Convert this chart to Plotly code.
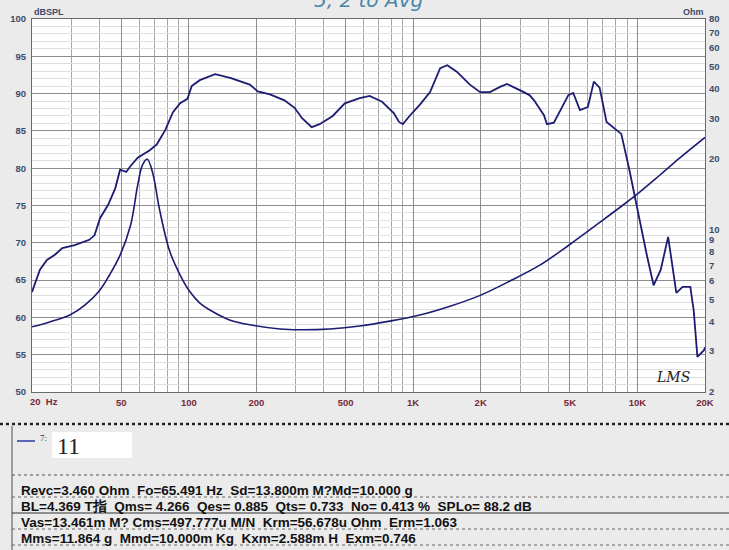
import plotly.graph_objects as go
import math

# ---------------- data ----------------
spl_freq = [20, 21.7, 23.3, 25.3, 27.3, 31, 36, 38, 40.2, 43.7, 47, 49.4, 52.6, 55, 59.2, 67, 72,
            78.5, 85, 91.5, 98.6, 103, 112, 131, 153, 187, 203, 230, 267, 296, 320, 353, 383,
            438, 496, 578, 640, 727, 820, 865, 900, 970, 1070, 1190, 1320, 1420, 1570, 1790,
            1990, 2200, 2440, 2620, 2970, 3300, 3460, 3830, 3950, 4240, 4920, 5170, 5540, 6010,
            6390, 6780, 7280, 7890, 8470, 9200, 9800, 10500, 11000, 11800, 12700, 13700, 14900,
            15900, 17200, 17800, 18500, 19800, 20000]
spl_db = [63.4, 66.4, 67.7, 68.4, 69.3, 69.7, 70.4, 71.0, 73.3, 75.1, 77.3, 79.8, 79.5, 80.3, 81.4,
          82.4, 83.2, 85.1, 87.5, 88.7, 89.3, 91.0, 91.8, 92.6, 92.1, 91.2, 90.3, 89.9, 89.1, 88.1,
          86.7, 85.5, 85.9, 87.0, 88.7, 89.4, 89.7, 88.9, 87.4, 86.2, 85.9, 87.1, 88.5, 90.2, 93.4,
          93.8, 92.9, 91.2, 90.2, 90.2, 90.9, 91.3, 90.5, 89.8, 89.1, 87.1, 85.9, 86.1, 89.8, 90.1,
          87.8, 88.2, 91.6, 90.8, 86.2, 85.4, 84.6, 79.8, 75.7, 71.0, 68.4, 64.3, 66.4, 70.8, 63.3,
          64.1, 64.1, 61.0, 54.7, 55.6, 56.0]

imp_freq = [20, 24, 29.5, 34.4, 40.2, 44.3, 49.4, 55, 59.2, 62.2, 65.3, 69, 74, 82, 91.5, 101, 112,
            131, 153, 187, 255, 312, 426, 578, 786, 1070, 1460, 1990, 2700, 3670, 4990, 6790,
            8340, 10200, 12600, 15400, 20000]
imp_ohm = [3.81, 4.0, 4.28, 4.72, 5.49, 6.36, 7.74, 10.4, 15.5, 18.9, 20.0, 17.5, 12.2, 8.1, 6.36,
           5.4, 4.82, 4.37, 4.07, 3.89, 3.73, 3.70, 3.73, 3.84, 4.03, 4.28, 4.67, 5.2, 5.99, 7.01,
           8.6, 10.7, 12.4, 14.4, 17.1, 20.2, 24.8]

x_tickvals = [50, 100, 200, 500, 1000, 2000, 5000, 10000, 20000]
x_ticktext = ["50", "100", "200", "500", "1K", "2K", "5K", "10K", "20K"]
y_tickvals = [50, 55, 60, 65, 70, 75, 80, 85, 90, 95, 100]
y2_tickvals = [2, 3, 4, 5, 6, 7, 8, 9, 10, 20, 30, 40, 50, 60, 70, 80]

param_rows = [
    "Revc=3.460 Ohm\u00a0 Fo=65.491 Hz\u00a0 Sd=13.800m M?Md=10.000 g",
    "BL=4.369 T指\u00a0 Qms= 4.266\u00a0 Qes= 0.885\u00a0 Qts= 0.733\u00a0 No= 0.413 %\u00a0 SPLo= 88.2 dB",
    "Vas=13.461m M? Cms=497.777u M/N\u00a0 Krm=56.678u Ohm\u00a0 Erm=1.063",
    "Mms=11.864 g\u00a0 Mmd=10.000m Kg\u00a0 Kxm=2.588m H\u00a0 Exm=0.746",
]

# ---------------- layout geometry ----------------
W, H = 729, 550
L, R, T, B = 32, 705, 19, 392


def px(x):
    return (x - L) / (R - L)


def py(y):
    return (B - y) / (B - T)


minor_x = []
for dec in [10, 100, 1000, 10000]:
    for m in range(1, 10):
        v = dec * m
        if 20 <= v <= 20000 and v not in x_tickvals:
            minor_x.append(v)

navy = "#1c1c72"
fig = go.Figure()
fig.add_trace(go.Scatter(x=spl_freq, y=spl_db, mode="lines",
                         line=dict(color=navy, width=1.8), yaxis="y", showlegend=False,
                         hoverinfo="skip"))
fig.add_trace(go.Scatter(x=imp_freq, y=imp_ohm, mode="lines", line_shape="spline",
                         line=dict(color=navy, width=1.6), yaxis="y2", showlegend=False,
                         hoverinfo="skip"))

tickfont_y = dict(family="Liberation Sans", size=9.5, color="#3c4c6c")
tickfont_x = dict(family="Liberation Sans", size=9.5, color="#7a2838")

fig.update_layout(
    width=W, height=H,
    margin=dict(l=L, r=W - R, t=T, b=H - B, autoexpand=False),
    paper_bgcolor="#ebebeb", plot_bgcolor="#ffffff",
    xaxis=dict(type="log", range=[math.log10(20), math.log10(20000)], automargin=False,
               tickvals=x_tickvals, ticktext=["<b>" + t + "</b>" for t in x_ticktext],
               tickfont=tickfont_x,
               showgrid=True, gridcolor="#8c8c8c", gridwidth=1,
               minor=dict(tickvals=minor_x, showgrid=True, gridcolor="#a8a8a8", gridwidth=1),
               showline=True, linecolor="#6a6a6a", linewidth=1, mirror=True,
               ticks="", ticklabelstandoff=2, zeroline=False),
    yaxis=dict(range=[50, 100], tickvals=y_tickvals,
               ticktext=["<b>%d</b>" % v for v in y_tickvals], tickfont=tickfont_y,
               automargin=False,
               showgrid=True, gridcolor="#8c8c8c", gridwidth=1,
               minor=dict(dtick=1, showgrid=True, gridcolor="#dedede", gridwidth=1),
               showline=True, linecolor="#6a6a6a", linewidth=1, mirror=True,
               ticks="", zeroline=False, ticklabelstandoff=3),
    yaxis2=dict(type="log", range=[math.log10(2), math.log10(80)], overlaying="y", side="right",
                automargin=False,
                tickvals=y2_tickvals, ticktext=["<b>%d</b>" % v for v in y2_tickvals],
                tickfont=tickfont_y,
                showgrid=False, ticks="", zeroline=False, ticklabelstandoff=3),
)

ann = []
ann.append(dict(text="<b>dBSPL</b>", x=px(32), y=py(12), xref="paper", yref="paper",
                xanchor="left", yanchor="middle", showarrow=False,
                font=dict(family="Liberation Sans", size=9, color="#3c4c6c")))
ann.append(dict(text="<b>Ohm</b>", x=px(706), y=py(12), xref="paper", yref="paper",
                xanchor="right", yanchor="middle", showarrow=False,
                font=dict(family="Liberation Sans", size=9, color="#3c4c6c")))
ann.append(dict(text="<b>20\u00a0 Hz</b>", x=px(28), y=py(401), xref="paper", yref="paper",
                xanchor="left", yanchor="middle", showarrow=False, font=tickfont_x))
ann.append(dict(text="<i>LMS</i>", x=px(673), y=py(377), xref="paper", yref="paper",
                xanchor="center", yanchor="middle", showarrow=False,
                font=dict(family="DejaVu Serif", size=14, color="#222222")))
ann.append(dict(text="<i>5, 2 to Avg</i>", x=px(368), y=py(0), xref="paper", yref="paper",
                xanchor="center", yanchor="middle", showarrow=False,
                font=dict(family="DejaVu Sans", size=20, color="#4a86a8")))
# legend
ann.append(dict(text="7:", x=px(38), y=py(438), xref="paper", yref="paper",
                xanchor="left", yanchor="middle", showarrow=False,
                font=dict(family="Liberation Serif", size=9, color="#333333")))
ann.append(dict(text="11", x=px(55), y=py(446), xref="paper", yref="paper",
                xanchor="left", yanchor="middle", showarrow=False,
                font=dict(family="Liberation Serif", size=24, color="#222222")))
row_y = [490, 506, 522, 538]
for txt, yy in zip(param_rows, row_y):
    ann.append(dict(text="<b>" + txt + "</b>", x=px(19), y=py(yy), xref="paper", yref="paper",
                    xanchor="left", yanchor="middle", showarrow=False,
                    font=dict(family="Liberation Sans", size=13.5, color="#111111")))

shapes = []
# thick dotted separator
shapes.append(dict(type="line", xref="paper", yref="paper", x0=px(0), x1=px(729),
                   y0=py(424), y1=py(424), line=dict(color="#222222", width=2.5, dash="dot")))
shapes.append(dict(type="line", xref="paper", yref="paper", x0=px(12), x1=px(729),
                   y0=py(475), y1=py(475), line=dict(color="#555555", width=1.2, dash="dot")))
shapes.append(dict(type="line", xref="paper", yref="paper", x0=px(12), x1=px(12),
                   y0=py(426), y1=py(550), line=dict(color="#666666", width=1.2)))
# legend line and box
shapes.append(dict(type="rect", xref="paper", yref="paper", x0=px(52), x1=px(132),
                   y0=py(432), y1=py(458), line=dict(width=0), fillcolor="#ffffff", layer="below"))
shapes.append(dict(type="line", xref="paper", yref="paper", x0=px(17), x1=px(35),
                   y0=py(441), y1=py(441), line=dict(color="#2a3aa0", width=1.5)))
# row separators
for yy, solid in [(497, False), (513, True), (529, False), (545, False)]:
    shapes.append(dict(type="line", xref="paper", yref="paper", x0=px(12), x1=px(729),
                       y0=py(yy), y1=py(yy),
                       line=dict(color="#333333" if solid else "#666666", width=1,
                                 dash="solid" if solid else "dot")))

fig.update_layout(annotations=ann, shapes=shapes)
fig.write_html("out.html", config={"displayModeBar": False},
               post_script="document.body.style.margin='0';document.body.style.overflow='hidden';")
